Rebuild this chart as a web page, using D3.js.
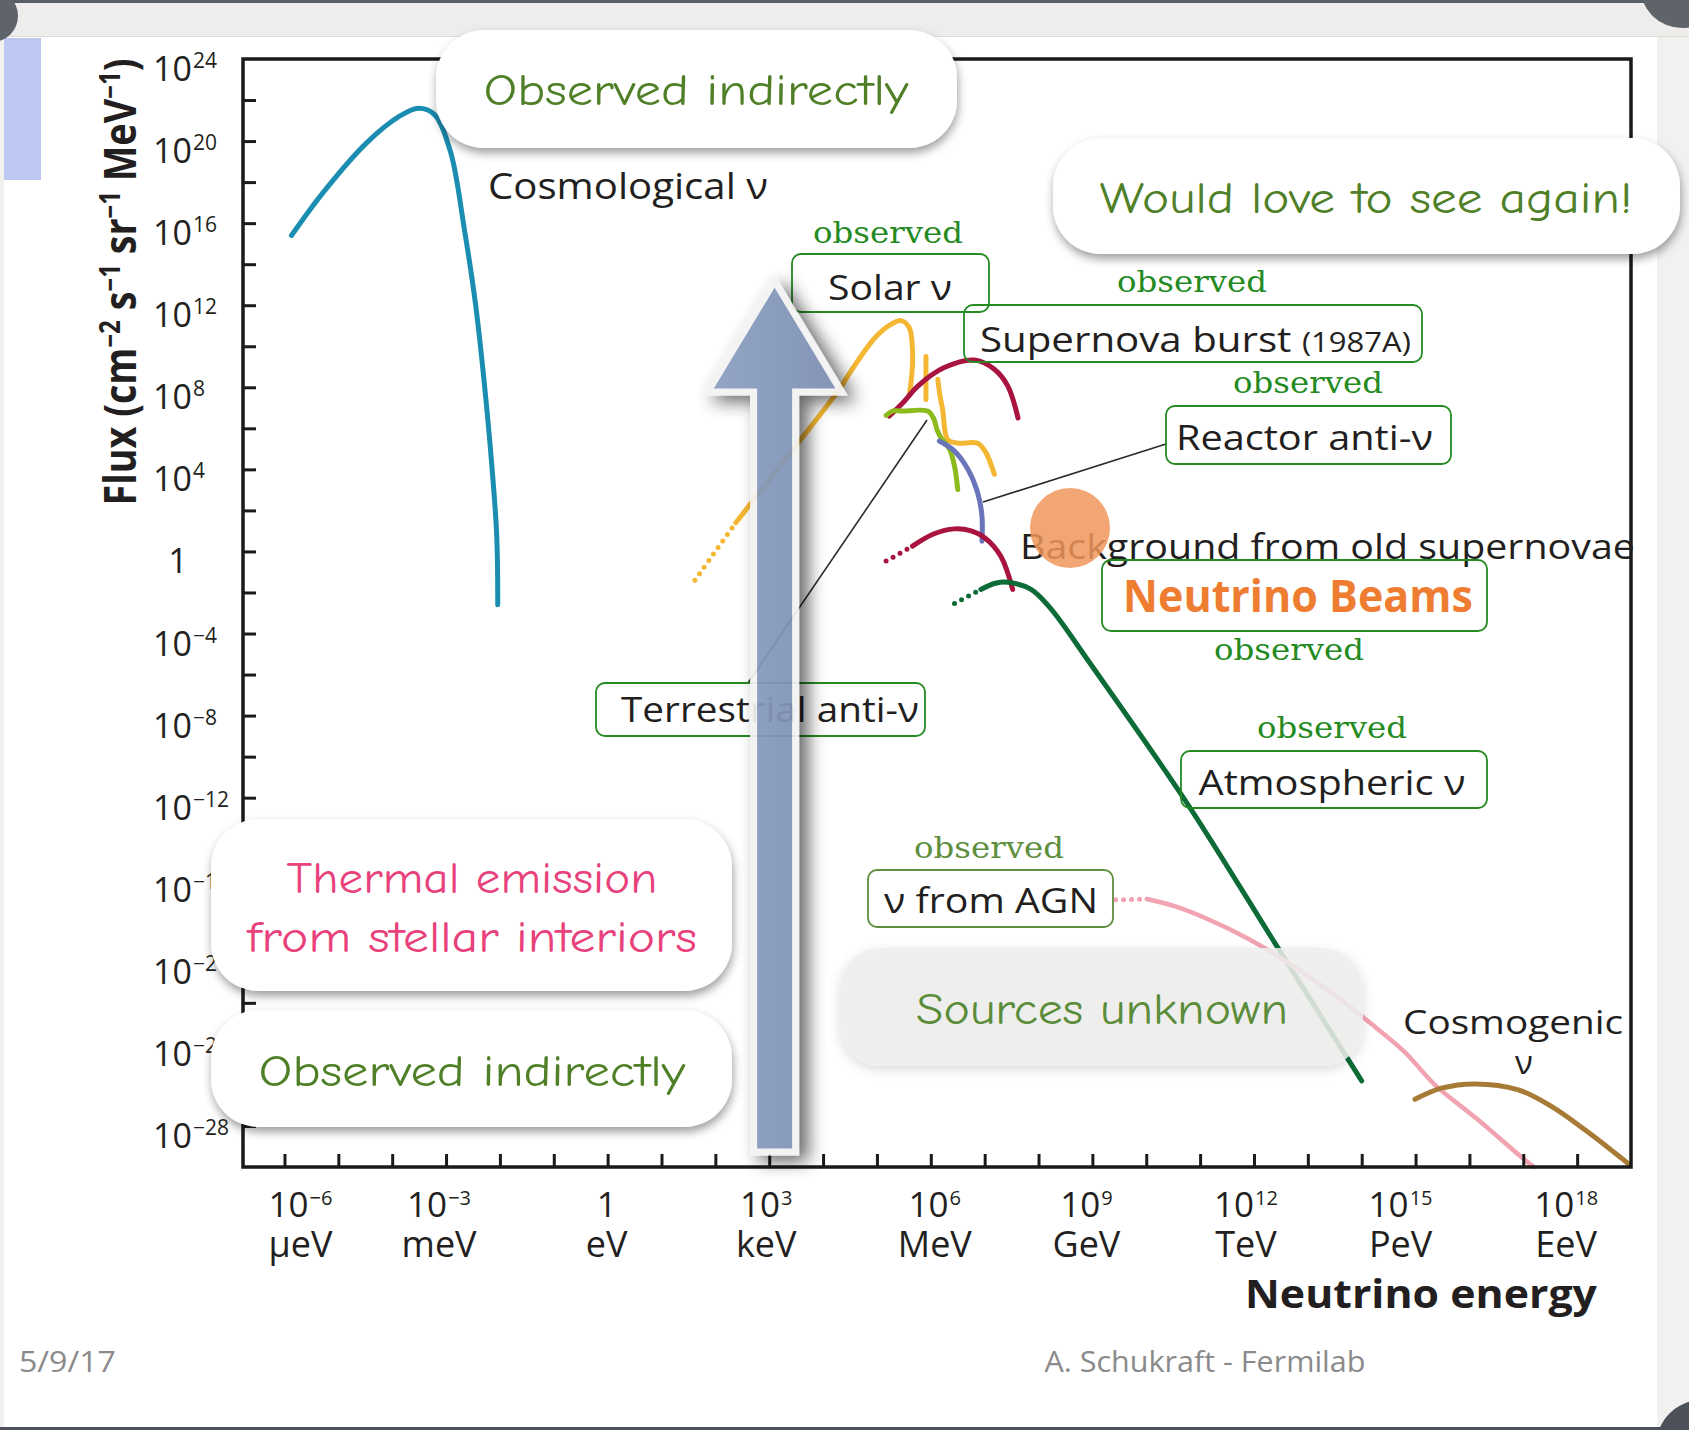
<!DOCTYPE html>
<html>
<head>
<meta charset="utf-8">
<script src="https://cdn.jsdelivr.net/npm/d3@7"></script>
<style>
  html, body { margin: 0; padding: 0; background: #f2f1ef; }
  svg { display: block; }
</style>
</head>
<body>
<svg id="chart" width="1689" height="1430"></svg>
<script>
// every point is [log10(E / eV), log10(flux / cm^-2 s^-1 sr^-1 MeV^-1)]
const cosmological = [[-5.87, 15.4], [-5.28, 17.5], [-4.48, 19.9], [-3.87, 21.2], [-3.51, 21.6], [-3.22, 21.3],
  [-2.92, 19.5], [-2.66, 15.7], [-2.45, 12.0], [-2.29, 8.2], [-2.16, 4.5], [-2.06, 0.8], [-2.04, -2.6]]
const solarDotted = [[1.62, -1.4], [2.38, 1.4]]
const solarSolid = [[2.38, 1.4], [3.3, 4.5], [4.3, 7.9], [4.52, 8.8], [4.96, 10.4], [5.25, 11.05], [5.45, 11.25],
  [5.6, 10.9], [5.66, 9.8], [5.65, 8.7], [5.6, 7.6]]
const solarBe7 = [[5.91, 9.5], [5.91, 7.4]]
const solarTail = [[6.13, 8.39], [6.17, 7.6], [6.22, 6.9], [6.31, 5.46], [6.45, 5.3], [6.56, 5.27], [6.87, 5.27],
  [7.02, 4.83], [7.18, 3.76]]
const supernovaBurst = [[5.23, 6.6], [5.5, 7.3], [5.76, 8.06], [6.25, 8.96], [6.81, 9.33], [7.18, 8.88], [7.43, 8.06], [7.62, 6.5]]
const terrestrial = [[5.17, 6.63], [5.3, 6.85], [5.45, 6.84], [5.94, 6.84], [6.05, 6.5], [6.12, 5.9], [6.2, 5.5],
  [6.35, 4.98], [6.44, 4.16], [6.5, 3.02]]
const reactor = [[6.16, 5.38], [6.44, 4.89], [6.69, 4.0], [6.87, 2.86], [6.95, 1.72], [6.95, 0.5]]
const relicDotted = [[5.17, -0.47], [5.66, 0.26]]
const relicSolid = [[5.66, 0.26], [6.05, 0.85], [6.44, 1.1], [6.75, 1.0], [7.0, 0.67], [7.3, -0.23], [7.52, -1.85]]
const atmosphericDotted = [[6.44, -2.54], [6.93, -1.85]]
const atmosphericSolid = [[6.93, -1.85], [7.2, -1.55], [7.43, -1.5], [7.86, -1.85], [8.23, -2.8], [8.94, -5.39],
  [10.74, -12.2], [12.44, -19.3], [14.0, -25.8]]
const agnDotted = [[9.43, -16.98], [10.01, -16.94]]
const agnSolid = [[10.01, -16.94], [10.54, -17.3], [11.17, -17.95], [11.91, -18.9], [12.65, -20.07], [13.49, -21.6],
  [14.12, -22.9], [14.8, -24.4], [15.36, -26.0], [16.16, -27.7], [17.03, -29.66], [17.2, -30]]
const cosmogenic = [[14.99, -26.7], [15.48, -26.16], [16.1, -25.95], [16.91, -26.24], [17.53, -27.06], [18.15, -28.2], [18.98, -29.9]]

const xTickExps = d3.range(-6, 19)
const xLabelExps = [-6, -3, 0, 3, 6, 9, 12, 15, 18]
const xUnits = ['μeV', 'meV', 'eV', 'keV', 'MeV', 'GeV', 'TeV', 'PeV', 'EeV']
const yTickExps = d3.range(-28, 24, 2)
const yLabelExps = d3.range(-28, 25, 4)

const W = 1689
const H = 1430
const plotBox = { left: 243, top: 59, right: 1631, bottom: 1167 }
// the hand-set labels under the x axis drift a little off their ticks
const xLabelNudge = [16, -7, -1, -3, 4, -6, -8, -15, -11]

const x = d3.scaleLog().domain([10 ** -6.77, 1e19]).range([plotBox.left, plotBox.right])
const y = d3.scaleLog().domain([1e-30, 1e24]).range([plotBox.bottom, plotBox.top])
const line = d3.line()
  .x(d => x(10 ** d[0]))
  .y(d => y(10 ** d[1]))
  .curve(d3.curveCatmullRom.alpha(0.5))

const labelFont = '"Open Sans", "Noto Sans", sans-serif'
const comicFont = '"Comic Sans MS", "Comic Neue", Lato, sans-serif'
const slabFont = '"DejaVu Serif", serif'
const ink = '#231f20'
const tagGreen = '#248a22'

const fmtExp = e => (e < 0 ? '\u2212' : '') + Math.abs(e)

// squeeze / stretch a text horizontally around its anchor
function fitWidth (text, width) {
  const w = text.node().getComputedTextLength()
  if (!w) return
  const ax = +text.attr('x')
  text.attr('transform', `translate(${ax},0) scale(${width / w},1) translate(${-ax},0)`)
}

const svg = d3.select('#chart')
const defs = svg.append('defs')

function dropShadow (id, dx, dy, sd, op) {
  defs.append('filter')
    .attr('id', id)
    .attr('x', '-20%').attr('y', '-20%')
    .attr('width', '150%').attr('height', '160%')
    .append('feDropShadow')
      .attr('dx', dx).attr('dy', dy)
      .attr('stdDeviation', sd)
      .attr('flood-color', '#000')
      .attr('flood-opacity', op)
}
dropShadow('callout-shadow', 1, 5, 5, 0.38)
dropShadow('soft-shadow', 0, 4, 6, 0.16)
dropShadow('arrow-shadow', 9, 6, 9, 0.65)

const grad = defs.append('linearGradient').attr('id', 'arrow-fill')
  .attr('x1', 0).attr('x2', 1).attr('y1', 0).attr('y2', 0)
grad.append('stop').attr('offset', '0%').attr('stop-color', '#8c9fc1')
grad.append('stop').attr('offset', '100%').attr('stop-color', '#7a8db2')

// ---- slide frame ----
svg.append('rect').attr('width', W).attr('height', H).attr('fill', '#f2f1ef')
svg.append('rect').attr('x', 4).attr('y', 36).attr('width', 1653).attr('height', 1391).attr('fill', '#fff')
svg.append('rect').attr('width', W).attr('height', 36).attr('fill', '#eeedeb')
svg.append('rect').attr('width', W).attr('height', 3).attr('fill', '#5a5f67')
svg.append('rect').attr('y', 36).attr('width', W).attr('height', 1).attr('fill', '#dcdbd8')
svg.append('rect').attr('x', 4).attr('y', 38).attr('width', 37).attr('height', 142).attr('fill', '#bcc8f1')
svg.append('rect').attr('y', 1427).attr('width', W).attr('height', 3).attr('fill', '#4d525a')
svg.append('circle').attr('cx', -8).attr('cy', 16).attr('r', 26).attr('fill', '#5f636a')
svg.append('circle').attr('cx', 1682).attr('cy', -14).attr('r', 42).attr('fill', '#5f636a')
svg.append('circle').attr('cx', 1702).attr('cy', 1446).attr('r', 46).attr('fill', '#4d525a')

// ---- curves ----
const curves = [
  { data: cosmological, color: '#1b8db1' },
  { data: solarDotted, color: '#f4b733', dotted: true },
  { data: solarSolid, color: '#f4b733' },
  { data: solarBe7, color: '#f4b733' },
  { data: solarTail, color: '#f4b733' },
  { data: supernovaBurst, color: '#a8133f' },
  { data: terrestrial, color: '#8cbb1e' },
  { data: reactor, color: '#6a74ba' },
  { data: relicDotted, color: '#a8133f', dotted: true },
  { data: relicSolid, color: '#a8133f' },
  { data: atmosphericDotted, color: '#0c6b37', dotted: true },
  { data: atmosphericSolid, color: '#0c6b37' },
  { data: agnDotted, color: '#f2a3b2', dotted: true },
  { data: agnSolid, color: '#f2a3b2', width: 4.5 },
  { data: cosmogenic, color: '#a77b36' }
]

const plot = svg.append('g').attr('class', 'plot')

plot.selectAll('path.curve')
  .data(curves)
  .join('path')
    .attr('class', 'curve')
    .attr('fill', 'none')
    .attr('stroke', d => d.color)
    .attr('stroke-width', d => d.width || 5)
    .attr('stroke-linecap', 'round')
    .attr('stroke-linejoin', 'round')
    .attr('stroke-dasharray', d => d.dotted ? '0 8' : null)
    .attr('d', d => line(d.data))

// ---- axes ----
const xAxis = d3.axisBottom(x)
  .tickValues(xTickExps.map(e => 10 ** e))
  .tickSize(-13)
  .tickSizeOuter(0)
  .tickFormat('')
const yAxis = d3.axisLeft(y)
  .tickValues(yTickExps.map(e => 10 ** e))
  .tickSize(-13)
  .tickSizeOuter(0)
  .tickFormat('')

plot.append('g')
  .attr('transform', `translate(0,${plotBox.bottom})`)
  .call(xAxis)
  .call(g => g.select('.domain').remove())
  .call(g => g.selectAll('line').attr('stroke', '#1a1a1a').attr('stroke-width', 3))
plot.append('g')
  .attr('transform', `translate(${plotBox.left},0)`)
  .call(yAxis)
  .call(g => g.select('.domain').remove())
  .call(g => g.selectAll('line').attr('stroke', '#1a1a1a').attr('stroke-width', 3))

plot.append('rect')
  .attr('x', plotBox.left).attr('y', plotBox.top)
  .attr('width', plotBox.right - plotBox.left)
  .attr('height', plotBox.bottom - plotBox.top)
  .attr('fill', 'none')
  .attr('stroke', '#1a1a1a')
  .attr('stroke-width', 3.5)

// y tick labels: "10" with a raised exponent, one text each
plot.append('g')
  .attr('font-family', labelFont)
  .attr('fill', ink)
  .selectAll('text')
  .data(yLabelExps)
  .join('text')
    .attr('x', e => e === 0 ? 178 : 153)
    .attr('y', e => y(10 ** e) + 22)
    .attr('text-anchor', e => e === 0 ? 'middle' : 'start')
    .attr('font-size', 34)
    .each(function (e) {
      const t = d3.select(this)
      if (e === 0) { t.text('1'); return }
      t.append('tspan').text('10')
      t.append('tspan').attr('dx', 1).attr('dy', -13).attr('font-size', 21).text(fmtExp(e))
    })

// x tick labels: power of ten above, unit name below
const xLab = plot.append('g')
  .attr('font-family', labelFont)
  .attr('fill', ink)
  .selectAll('g')
  .data(xLabelExps)
  .join('g')
    .attr('transform', (e, i) => `translate(${x(10 ** e) + xLabelNudge[i]},0)`)

xLab.append('text')
  .attr('x', 0).attr('y', 1217)
  .attr('text-anchor', 'middle')
  .attr('font-size', 35)
  .each(function (e) {
    const t = d3.select(this)
    if (e === 0) { t.text('1'); return }
    t.append('tspan').text('10')
    t.append('tspan').attr('dx', 1).attr('dy', -12).attr('font-size', 20).text(fmtExp(e))
  })
xLab.append('text')
  .attr('x', 0).attr('y', 1257)
  .attr('text-anchor', 'middle')
  .attr('font-size', 36)
  .text((e, i) => xUnits[i])

// axis titles
const yTitle = svg.append('g')
  .attr('transform', 'translate(136,282) rotate(-90)')
  .append('text')
    .attr('x', 0).attr('y', 0)
    .attr('text-anchor', 'middle')
    .attr('font-family', labelFont)
    .attr('font-weight', 700)
    .attr('font-size', 44)
    .attr('fill', ink)
yTitle.append('tspan').text('Flux (cm')
yTitle.append('tspan').attr('dy', -16).attr('font-size', 28).text('\u22122')
yTitle.append('tspan').attr('dy', 16).text(' s')
yTitle.append('tspan').attr('dy', -16).attr('font-size', 28).text('\u22121')
yTitle.append('tspan').attr('dy', 16).text(' sr')
yTitle.append('tspan').attr('dy', -16).attr('font-size', 28).text('\u22121')
yTitle.append('tspan').attr('dy', 16).text(' MeV')
yTitle.append('tspan').attr('dy', -16).attr('font-size', 28).text('\u22121')
yTitle.append('tspan').attr('dy', 16).text(')')
fitWidth(yTitle, 447)

const xTitle = svg.append('text')
  .attr('x', 1597).attr('y', 1308)
  .attr('text-anchor', 'end')
  .attr('font-family', labelFont)
  .attr('font-weight', 700)
  .attr('font-size', 40)
  .attr('fill', ink)
  .text('Neutrino energy')
fitWidth(xTitle, 352)

// ---- chart labels ----
const notes = svg.append('g').attr('font-family', labelFont).attr('fill', ink)

const leaders = [
  [[748, 683], [927, 420]],
  [[983, 502], [1166, 444]]
]
notes.selectAll('line.leader')
  .data(leaders)
  .join('line')
    .attr('class', 'leader')
    .attr('x1', d => d[0][0]).attr('y1', d => d[0][1])
    .attr('x2', d => d[1][0]).attr('y2', d => d[1][1])
    .attr('stroke', '#2a2a2a')
    .attr('stroke-width', 1.6)

const plainLabels = [
  { text: 'Cosmological \u03bd', x: 488, y: 199, anchor: 'start', size: 36, width: 280 },
  { text: 'Background from old supernovae', x: 1020, y: 559, anchor: 'start', size: 35, width: 615 },
  { text: 'Cosmogenic', x: 1513, y: 1034, anchor: 'middle', size: 33, width: 220 },
  { text: '\u03bd', x: 1524, y: 1074, anchor: 'middle', size: 33 }
]
plainLabels.forEach(d => {
  const t = notes.append('text')
    .attr('x', d.x).attr('y', d.y)
    .attr('text-anchor', d.anchor)
    .attr('font-size', d.size)
    .text(d.text)
  if (d.width) fitWidth(t, d.width)
})

// orange marker over the relic-supernova label
notes.append('circle')
  .attr('cx', 1070).attr('cy', 528).attr('r', 40)
  .attr('fill', '#f0965b')
  .attr('opacity', 0.85)

const tags = [
  { text: 'Solar \u03bd', box: [792, 254, 197, 58], tx: 890, ty: 300, anchor: 'middle', width: 124 },
  { text: 'Supernova burst ', small: '(1987A)', box: [964, 305, 458, 57], tx: 980, ty: 352, anchor: 'start', width: 431 },
  { text: 'Reactor anti-\u03bd', box: [1166, 406, 285, 58], tx: 1176, ty: 450, anchor: 'start', width: 257 },
  { text: 'Neutrino Beams', box: [1102, 560, 385, 71], tx: 1298, ty: 612, anchor: 'middle', width: 350,
    color: '#ee7d31', bold: true, size: 44 },
  { text: 'Terrestrial anti-\u03bd', box: [596, 683, 329, 53], tx: 770, ty: 722, anchor: 'middle', width: 298 },
  { text: 'Atmospheric \u03bd', box: [1181, 751, 306, 57], tx: 1332, ty: 795, anchor: 'middle', width: 267 },
  { text: '\u03bd from AGN', box: [868, 870, 245, 57], tx: 991, ty: 913, anchor: 'middle', width: 214, stroke: '#5e8f3e' }
]
tags.forEach(d => {
  notes.append('rect')
    .attr('x', d.box[0]).attr('y', d.box[1])
    .attr('width', d.box[2]).attr('height', d.box[3])
    .attr('rx', 9)
    .attr('fill', 'none')
    .attr('stroke', d.stroke || tagGreen)
    .attr('stroke-width', 1.8)
  const t = notes.append('text')
    .attr('x', d.tx).attr('y', d.ty)
    .attr('text-anchor', d.anchor)
    .attr('font-size', d.size || 35)
    .attr('font-weight', d.bold ? 700 : 400)
    .attr('fill', d.color || ink)
  t.append('tspan').text(d.text)
  if (d.small) t.append('tspan').attr('font-size', 27).text(d.small)
  fitWidth(t, d.width)
})

const observed = [
  { x: 888, y: 243 },
  { x: 1192, y: 292 },
  { x: 1308, y: 393 },
  { x: 1289, y: 660 },
  { x: 1332, y: 738 },
  { x: 989, y: 858, color: '#5e8f3e' }
]
observed.forEach(d => {
  const t = notes.append('text')
    .attr('x', d.x).attr('y', d.y)
    .attr('text-anchor', 'middle')
    .attr('font-family', slabFont)
    .attr('font-size', 30)
    .attr('fill', d.color || tagGreen)
    .text('observed')
  fitWidth(t, 150)
})

// ---- big arrow ----
const arrowX = x(10 ** 3.1)
const arrow = { tip: 281, headBase: 392, bottom: 1152, head: 67, shaft: 21 }
const arrowPath = d3.path()
arrowPath.moveTo(arrowX, arrow.tip)
arrowPath.lineTo(arrowX + arrow.head, arrow.headBase)
arrowPath.lineTo(arrowX + arrow.shaft, arrow.headBase)
arrowPath.lineTo(arrowX + arrow.shaft, arrow.bottom)
arrowPath.lineTo(arrowX - arrow.shaft, arrow.bottom)
arrowPath.lineTo(arrowX - arrow.shaft, arrow.headBase)
arrowPath.lineTo(arrowX - arrow.head, arrow.headBase)
arrowPath.closePath()

svg.append('g')
  .attr('opacity', 0.93)
  .attr('filter', 'url(#arrow-shadow)')
  .append('path')
    .attr('d', arrowPath.toString())
    .attr('fill', 'url(#arrow-fill)')
    .attr('stroke', '#f3f3f3')
    .attr('stroke-width', 7)
    .attr('stroke-linejoin', 'miter')

// ---- slide callouts ----
const callouts = [
  { box: [436, 30, 521, 118], r: 48, color: '#4f8028', cx: 696,
    lines: [{ t: 'Observed indirectly', y: 105, w: 425 }] },
  { box: [1053, 138, 627, 116], r: 48, color: '#4f8028', cx: 1366,
    lines: [{ t: 'Would love to see again!', y: 213, w: 533 }] },
  { box: [211, 819, 521, 172], r: 48, color: '#e8417c', cx: 472,
    lines: [{ t: 'Thermal emission', y: 893, w: 371 }, { t: 'from stellar interiors', y: 952, w: 450 }] },
  { box: [211, 1010, 521, 117], r: 48, color: '#4f8028', cx: 472,
    lines: [{ t: 'Observed indirectly', y: 1086, w: 427 }] },
  { box: [840, 948, 523, 118], r: 40, color: '#5b8c39', cx: 1102, fill: '#efefed', opacity: 0.86, soft: true,
    lines: [{ t: 'Sources unknown', y: 1024, w: 372 }] }
]
callouts.forEach(d => {
  const g = svg.append('g')
  g.append('rect')
    .attr('x', d.box[0]).attr('y', d.box[1])
    .attr('width', d.box[2]).attr('height', d.box[3])
    .attr('rx', d.r)
    .attr('fill', d.fill || '#fff')
    .attr('fill-opacity', d.opacity || 1)
    .attr('filter', d.soft ? 'url(#soft-shadow)' : 'url(#callout-shadow)')
  d.lines.forEach(l => {
    const t = g.append('text')
      .attr('x', d.cx).attr('y', l.y)
      .attr('text-anchor', 'middle')
      .attr('font-family', comicFont)
      .attr('font-size', 44)
      .attr('fill', d.color)
      .text(l.t)
    fitWidth(t, l.w)
  })
})

// ---- footer ----
const foot = svg.append('g').attr('font-family', labelFont).attr('font-size', 29).attr('fill', '#8a8a8a')
fitWidth(foot.append('text').attr('x', 19).attr('y', 1372).text('5/9/17'), 97)
fitWidth(foot.append('text').attr('x', 1205).attr('y', 1372).attr('text-anchor', 'middle').text('A. Schukraft - Fermilab'), 321)
</script>
</body>
</html>
